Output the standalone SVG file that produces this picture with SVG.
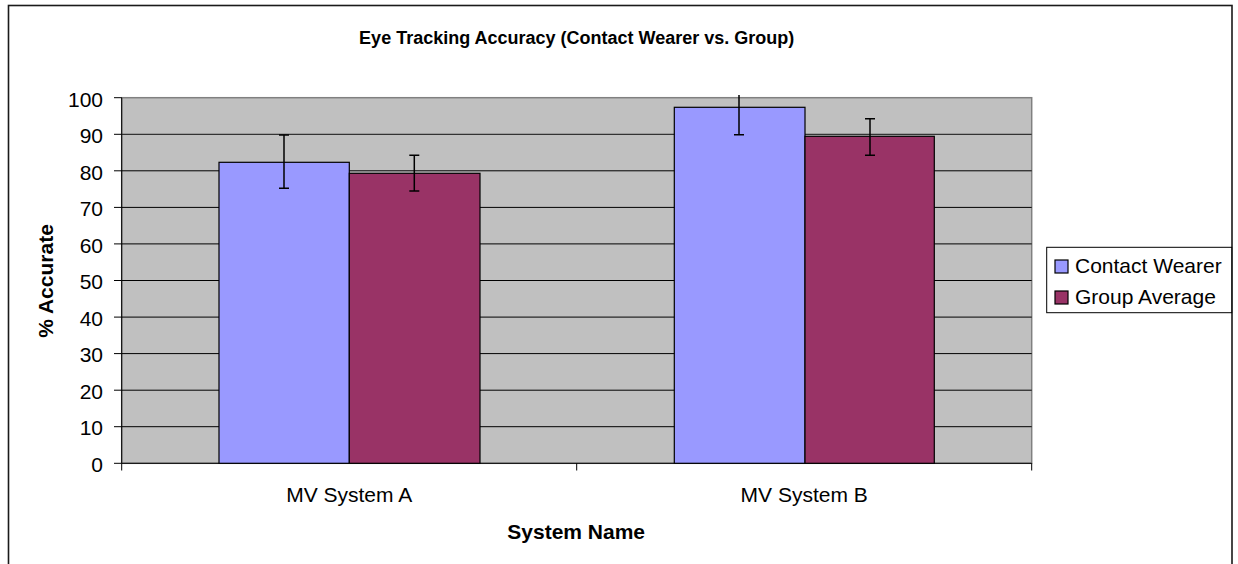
<svg xmlns="http://www.w3.org/2000/svg" width="1238" height="564" viewBox="0 0 1238 564">
<style>
.t{font-family:"Liberation Sans",Arial,sans-serif;fill:#000}
.b{font-weight:bold}
.tick{font-size:21px;text-anchor:end}
.grid{stroke:#000;stroke-width:1}
.ax{stroke:#000;stroke-width:1;fill:none}
.cw{fill:#9999FF;stroke:#000;stroke-width:1.2}
.ga{fill:#993366;stroke:#000;stroke-width:1.2}
.err{stroke:#000;stroke-width:1.5;fill:none}
</style>
<rect x="0" y="0" width="1238" height="564" fill="#fff"/>
<rect id="frame" x="8.5" y="5.5" width="1223.5" height="570" fill="#fff" stroke="#1a1a1a" stroke-width="1.6"/>
<text class="t b" x="576.7" y="43.5" font-size="18" text-anchor="middle">Eye Tracking Accuracy (Contact Wearer vs. Group)</text>
<g id="plot">
<rect x="121.7" y="97.7" width="910" height="365.6" fill="#C0C0C0" stroke="#808080" stroke-width="1.5"/>
<g class="grid">
<line x1="121.7" y1="426.7" x2="1031.7" y2="426.7"/>
<line x1="121.7" y1="390.2" x2="1031.7" y2="390.2"/>
<line x1="121.7" y1="353.6" x2="1031.7" y2="353.6"/>
<line x1="121.7" y1="317.1" x2="1031.7" y2="317.1"/>
<line x1="121.7" y1="280.5" x2="1031.7" y2="280.5"/>
<line x1="121.7" y1="243.9" x2="1031.7" y2="243.9"/>
<line x1="121.7" y1="207.4" x2="1031.7" y2="207.4"/>
<line x1="121.7" y1="170.8" x2="1031.7" y2="170.8"/>
<line x1="121.7" y1="134.3" x2="1031.7" y2="134.3" stroke="#333" stroke-width="1.3"/>
</g>
</g>
<g id="axes" class="ax">
<line x1="121.7" y1="97.7" x2="121.7" y2="463.3"/>
<line x1="121.7" y1="463.3" x2="1031.7" y2="463.3"/>
<line x1="114" y1="463.3" x2="121.7" y2="463.3"/>
<line x1="114" y1="426.7" x2="121.7" y2="426.7"/>
<line x1="114" y1="390.2" x2="121.7" y2="390.2"/>
<line x1="114" y1="353.6" x2="121.7" y2="353.6"/>
<line x1="114" y1="317.1" x2="121.7" y2="317.1"/>
<line x1="114" y1="280.5" x2="121.7" y2="280.5"/>
<line x1="114" y1="243.9" x2="121.7" y2="243.9"/>
<line x1="114" y1="207.4" x2="121.7" y2="207.4"/>
<line x1="114" y1="170.8" x2="121.7" y2="170.8"/>
<line x1="114" y1="134.3" x2="121.7" y2="134.3"/>
<line x1="114" y1="97.7" x2="121.7" y2="97.7"/>
<line x1="121.7" y1="463.3" x2="121.7" y2="470.5"/>
<line x1="576.7" y1="463.3" x2="576.7" y2="470.5"/>
<line x1="1031.7" y1="463.3" x2="1031.7" y2="470.5"/>
</g>
<g id="ytick-labels" class="t tick">
<text x="103" y="471.5">0</text>
<text x="103" y="435">10</text>
<text x="103" y="398.5">20</text>
<text x="103" y="362">30</text>
<text x="103" y="325.5">40</text>
<text x="103" y="289">50</text>
<text x="103" y="252.5">60</text>
<text x="103" y="216">70</text>
<text x="103" y="179.5">80</text>
<text x="103" y="143">90</text>
<text x="103" y="106.5">100</text>
</g>
<g id="bars">
<rect id="bar-a-cw" class="cw" x="219" y="162.3" width="130.3" height="301"/>
<rect id="bar-a-ga" class="ga" x="349.3" y="173.3" width="130.7" height="290"/>
<rect id="bar-b-cw" class="cw" x="674.3" y="107.3" width="130.7" height="356"/>
<rect id="bar-b-ga" class="ga" x="805" y="136.3" width="129.3" height="327"/>
</g>
<g id="error-bars" class="err">
<path d="M284 135V188.3M279 135H289M279 188.3H289"/>
<path d="M414.3 155.3V191M409.3 155.3H419.3M409.3 191H419.3"/>
<path d="M739 95V134.7M734 134.7H744"/>
<path d="M870 118.7V155.3M865 118.7H875M865 155.3H875"/>
</g>
<g id="xlabels" class="t" font-size="21" text-anchor="middle">
<text x="349.2" y="502">MV System A</text>
<text x="804.2" y="502">MV System B</text>
</g>
<text class="t b" x="576.2" y="539" font-size="21" text-anchor="middle">System Name</text>
<text class="t b" font-size="21" text-anchor="middle" transform="translate(53,281) rotate(-90)">% Accurate</text>
<g id="legend">
<rect x="1046.7" y="247.3" width="185" height="65.4" fill="#fff" stroke="#000" stroke-width="1"/>
<rect x="1055" y="260" width="13" height="13" class="cw"/>
<rect x="1055" y="291" width="13" height="13" class="ga"/>
<text class="t" x="1075" y="273.3" font-size="21">Contact Wearer</text>
<text class="t" x="1075" y="304.3" font-size="21">Group Average</text>
</g>
</svg>
